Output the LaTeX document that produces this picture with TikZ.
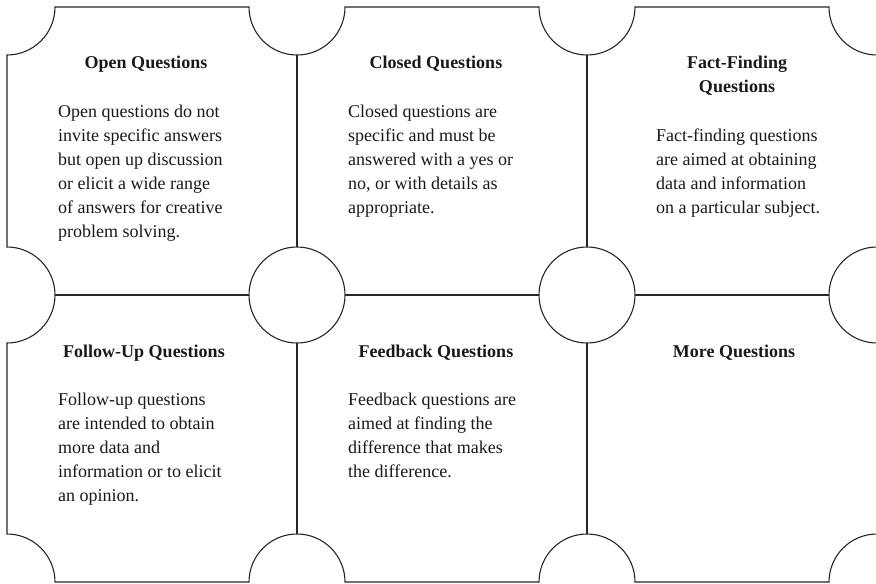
\documentclass[tikz,border=0pt]{standalone}
\usepackage{fontspec}
\setmainfont{Liberation Serif}
\begin{document}
\begin{tikzpicture}[x=1pt,y=-1pt,
  outline/.style={line width=1.1pt,draw=black!85},
  ttl/.style={font=\fontsize{18}{24}\selectfont\bfseries,anchor=base,align=center,inner sep=0pt,text=black!90},
  body/.style={font=\fontsize{18}{24}\selectfont,anchor=base west,align=left,inner sep=0pt,text=black!90}]
\useasboundingbox (0,0) rectangle (876,584);
\def\xa{7}\def\xb{297}\def\xc{587}\def\xd{877}
\def\ya{7}\def\yb{295}\def\yc{582}\def\r{48}
% outer puzzle outline
\draw[outline] (\xa+\r,\ya) -- (\xb-\r,\ya) arc(180:0:\r)
  -- (\xc-\r,\ya) arc(180:0:\r)
  -- (\xd-\r,\ya) arc(180:90:\r)
  -- (\xd,\yb-\r) arc(270:90:\r)
  -- (\xd,\yc-\r) arc(270:180:\r)
  -- (\xc+\r,\yc) arc(0:-180:\r)
  -- (\xb+\r,\yc) arc(0:-180:\r)
  -- (\xa+\r,\yc) arc(0:-90:\r)
  -- (\xa,\yb+\r) arc(90:-90:\r)
  -- (\xa,\ya+\r) arc(90:0:\r) -- cycle;
% inner dividers
\draw[outline] (\xb,\ya+\r) -- (\xb,\yb-\r) (\xb,\yb+\r) -- (\xb,\yc-\r);
\draw[outline] (\xc,\ya+\r) -- (\xc,\yb-\r) (\xc,\yb+\r) -- (\xc,\yc-\r);
\draw[outline] (\xa+\r,\yb) -- (\xb-\r,\yb) (\xb+\r,\yb) -- (\xc-\r,\yb) (\xc+\r,\yb) -- (\xd-\r,\yb);
\draw[outline] (\xb,\yb) circle[radius=\r];
\draw[outline] (\xc,\yb) circle[radius=\r];
% texts (base anchor = baseline of the last line)
\node[ttl] (t1) at (146,68) {Open Questions};
\node[body] (b1) at (58,237) {Open questions do not\\invite specific answers\\but open up discussion\\or elicit a wide range\\of answers for creative\\problem solving.};
\node[ttl] (t2) at (436,68) {Closed Questions};
\node[body] (b2) at (348,213) {Closed questions are\\specific and must be\\answered with a yes or\\no, or with details as\\appropriate.};
\node[ttl] (t3) at (737,92) {Fact-Finding\\Questions};
\node[body] (b3) at (656,213) {Fact-finding questions\\are aimed at obtaining\\data and information\\on a particular subject.};
\node[ttl] (t4) at (144,357) {Follow-Up Questions};
\node[body] (b4) at (58,501) {Follow-up questions\\are intended to obtain\\more data and\\information or to elicit\\an opinion.};
\node[ttl] (t5) at (436,357) {Feedback Questions};
\node[body] (b5) at (348,477) {Feedback questions are\\aimed at finding the\\difference that makes\\the difference.};
\node[ttl] (t6) at (734,357) {More Questions};
\end{tikzpicture}
\end{document}
